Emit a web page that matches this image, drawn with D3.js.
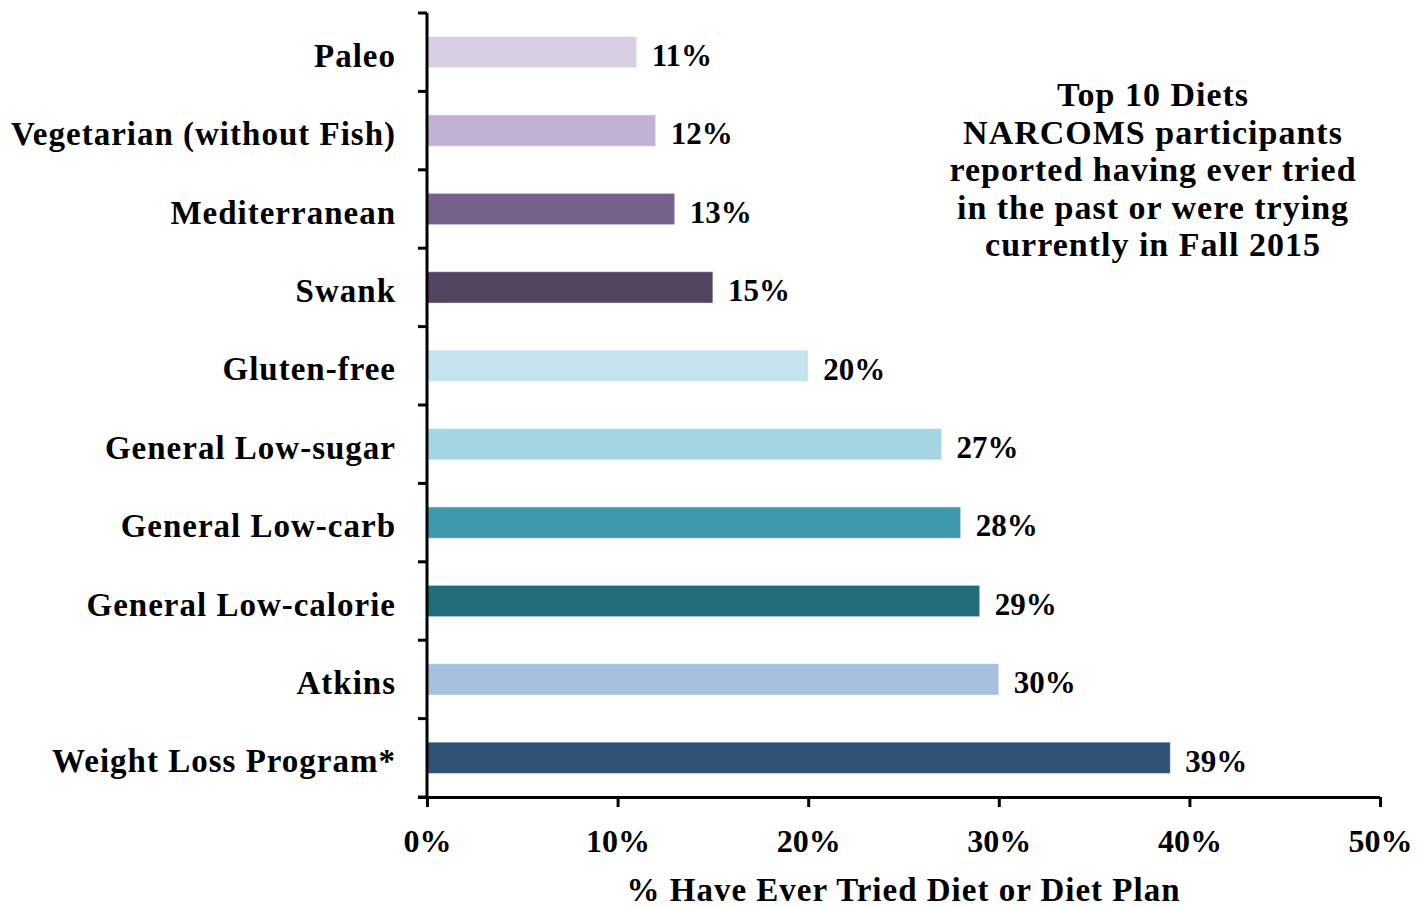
<!DOCTYPE html>
<html>
<head>
<meta charset="utf-8">
<script src="https://cdn.jsdelivr.net/npm/d3@7"></script>
<style>
  html, body { margin: 0; padding: 0; background: #fff; }
  svg { display: block; }
  text { font-family: "Liberation Serif", "DejaVu Serif", serif; font-weight: bold; fill: #000; }
</style>
</head>
<body>
<svg id="chart" width="1428" height="907"></svg>
<script>
// Diet names, top to bottom
const diets = [
  "Paleo",
  "Vegetarian (without Fish)",
  "Mediterranean",
  "Swank",
  "Gluten-free",
  "General Low-sugar",
  "General Low-carb",
  "General Low-calorie",
  "Atkins",
  "Weight Loss Program*"
];
// Percent who have ever tried each diet
const triedPct = [11, 12, 13, 15, 20, 27, 28, 29, 30, 39];
const barColors = [
  "#d8cfe3", "#c1b2d5", "#77618d", "#544464", "#c4e3ee",
  "#a3d5e3", "#3e99ad", "#216d7b", "#a6c1df", "#2f5276"
];
const xTicks = [0, 10, 20, 30, 40, 50];
const titleLines = [
  "Top 10 Diets",
  "NARCOMS participants",
  "reported having ever tried",
  "in the past or were trying",
  "currently in Fall 2015"
];
const xTitle = "% Have Ever Tried Diet or Diet Plan";

const svg = d3.select("#chart");
const margin = { top: 13, left: 427, right: 48, bottom: 110 };
const W = 1428, H = 907;
const innerW = W - margin.left - margin.right;
const innerH = H - margin.top - margin.bottom;

const g = svg.append("g").attr("transform", `translate(${margin.left},${margin.top})`);

const x = d3.scaleLinear().domain([0, 50]).range([0, innerW]);
const y = d3.scaleBand().domain(diets).range([0, innerH]).paddingInner(0.6).paddingOuter(0.3);
const yBand = d3.scaleBand().domain(diets).range([0, innerH]);

const data = diets.map((d, i) => ({ name: d, value: triedPct[i], color: barColors[i] }));

// bars
g.selectAll("rect.bar")
  .data(data)
  .join("rect")
  .attr("class", "bar")
  .attr("x", 0)
  .attr("y", d => y(d.name))
  .attr("width", d => x(d.value))
  .attr("height", y.bandwidth())
  .attr("fill", d => d.color)
  .attr("stroke", "#ffffff")
  .attr("stroke-opacity", 0.5)
  .attr("stroke-width", 1);

// value labels
g.selectAll("text.val")
  .data(data)
  .join("text")
  .attr("class", "val")
  .attr("x", d => x(d.value) + 15)
  .attr("y", d => y(d.name) + y.bandwidth() / 2 + 3)
  .attr("dy", "0.35em")
  .style("font-size", "31px")
  .text(d => d.value + "%");

// y axis: line with outward ticks at category boundaries
const yBoundaries = diets.map(d => yBand(d)).concat([innerH]);
g.append("line")
  .attr("x1", 0).attr("x2", 0).attr("y1", 0).attr("y2", innerH)
  .attr("stroke", "#000").attr("stroke-width", 3);
g.selectAll("line.ytick")
  .data(yBoundaries)
  .join("line")
  .attr("class", "ytick")
  .attr("x1", -9).attr("x2", 0)
  .attr("y1", d => d).attr("y2", d => d)
  .attr("stroke", "#000").attr("stroke-width", 3);

// category labels
g.selectAll("text.cat")
  .data(data)
  .join("text")
  .attr("class", "cat")
  .attr("x", -31)
  .attr("y", d => yBand(d.name) + yBand.bandwidth() / 2 + 3)
  .attr("dy", "0.35em")
  .attr("text-anchor", "end")
  .style("font-size", "33px")
  .style("letter-spacing", "1px")
  .text(d => d.name);

// x axis
const xAxis = g.append("g")
  .attr("transform", `translate(0,${innerH})`)
  .call(d3.axisBottom(x).tickValues(xTicks).tickSize(10).tickPadding(22).tickFormat(d => d + "%"));
xAxis.select(".domain").attr("stroke", "#000").attr("stroke-width", 3)
  .attr("d", `M${-9},0.5H${innerW}`);
xAxis.selectAll(".tick line").attr("stroke", "#000").attr("stroke-width", 3);
xAxis.selectAll(".tick text")
  .attr("fill", "#000")
  .style("font-family", "'Liberation Serif', serif")
  .style("font-weight", "bold")
  .style("font-size", "32px");

// x axis title
svg.append("text")
  .attr("x", margin.left + innerW / 2)
  .attr("y", 901)
  .attr("text-anchor", "middle")
  .style("font-size", "33px")
  .style("letter-spacing", "1px")
  .text(xTitle);

// chart note in upper right
const note = svg.append("text")
  .attr("text-anchor", "middle")
  .style("font-size", "34px")
  .style("letter-spacing", "1px");
note.selectAll("tspan")
  .data(titleLines)
  .join("tspan")
  .attr("x", 1153)
  .attr("y", (d, i) => 106 + i * 37.6)
  .text(d => d);
</script>
</body>
</html>
